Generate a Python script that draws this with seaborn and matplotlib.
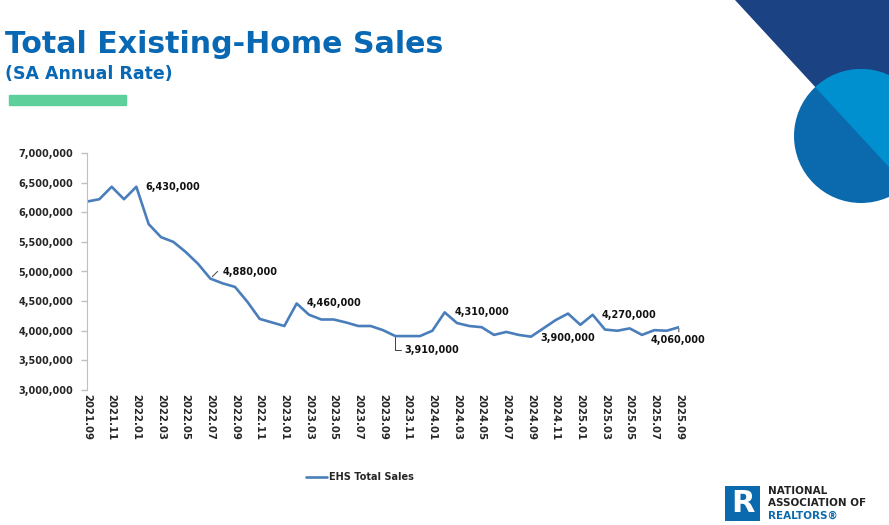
import matplotlib
matplotlib.use("Agg")
import matplotlib.pyplot as plt
import matplotlib.patches as mpatches
import seaborn as sns
import numpy as np
import pandas as pd

# monthly periods 2021.09 .. 2025.09
months = [f"{y}.{m:02d}" for y in range(2021, 2026) for m in range(1, 13)]
months = months[months.index("2021.09"):months.index("2025.09") + 1]

# EHS total sales, SA annual rate (millions)
sales_m = [6.18, 6.22, 6.43, 6.22,
           6.43, 5.80, 5.58, 5.50, 5.33, 5.13, 4.88, 4.80, 4.74, 4.49, 4.20, 4.14,
           4.08, 4.46, 4.27, 4.19, 4.19, 4.14, 4.08, 4.08, 4.01, 3.91, 3.91, 3.91,
           4.00, 4.31, 4.13, 4.08, 4.06, 3.93, 3.98, 3.93, 3.90, 4.04, 4.18, 4.29,
           4.10, 4.27, 4.02, 4.00, 4.04, 3.93, 4.01, 4.00, 4.06]

# labelled points: (period, label)
callouts = [("2022.01", "6,430,000"), ("2022.07", "4,880,000"),
            ("2023.02", "4,460,000"), ("2023.10", "3,910,000"),
            ("2024.02", "4,310,000"), ("2024.09", "3,900,000"),
            ("2025.02", "4,270,000"), ("2025.09", "4,060,000")]

df = pd.DataFrame({"idx": np.arange(len(months)), "period": months,
                   "sales": np.array(sales_m) * 1e6})

sns.set_style("white")
plt.rcParams["font.family"] = ["DejaVu Sans"]

W, H = 889, 525
fig = plt.figure(figsize=(W / 100, H / 100), dpi=100)

def fx(px):
    return px / W

def fy(py):
    return 1 - py / H

ax = fig.add_axes([fx(87), fy(390), fx(679) - fx(87), fy(153) - fy(390)])
line_color = "#4a7ebb"
sns.lineplot(data=df, x="idx", y="sales", ax=ax, color=line_color,
             linewidth=1.9, label="EHS Total Sales", legend=False)

ax.set_xlim(0, len(months) - 1)
ax.set_ylim(3e6, 7e6)
ax.set_yticks(np.arange(3e6, 7.01e6, 5e5))
ax.set_yticklabels([f"{int(v):,}" for v in ax.get_yticks()],
                   fontsize=7, fontweight="bold")
ax.set_xticks(df["idx"][::2])
ax.set_xticklabels(df["period"][::2], rotation=270, fontsize=7.3,
                   fontweight="bold")
ax.tick_params(axis="x", length=0, pad=3)
ax.tick_params(axis="y", length=4, color="#bfbfbf", width=1, pad=6, left=True)
ax.set_xlabel("")
ax.set_ylabel("")
for s in ["top", "right", "bottom"]:
    ax.spines[s].set_visible(False)
ax.spines["left"].set_color("#bfbfbf")
ax.patch.set_alpha(0)

# data labels
offsets = {"2022.01": (9, 0, None), "2022.07": (12, 7, "angle2"),
           "2023.02": (10, 0, None), "2023.10": (9, -14, "angle"),
           "2024.02": (10, 0, None), "2024.09": (9, -1, None),
           "2025.02": (9, 0, None), "2025.09": (-28, -13, "-")}
for period, text in callouts:
    i = months.index(period)
    dx, dy, arrow = offsets[period]
    props = None
    if arrow == "-":
        props = dict(arrowstyle="-", color="#404040", lw=0.7,
                     shrinkA=0, shrinkB=1)
    elif arrow == "angle":
        props = dict(arrowstyle="-", color="#404040", lw=0.7, shrinkA=0,
                     shrinkB=1,
                     connectionstyle="angle,angleA=0,angleB=90,rad=0")
    elif arrow == "angle2":
        props = dict(arrowstyle="-", color="#404040", lw=0.7, shrinkA=1,
                     shrinkB=2,
                     connectionstyle="angle,angleA=0,angleB=45,rad=0")
    ax.annotate(text, (i, sales_m[i] * 1e6), xytext=(dx, dy),
                textcoords="offset pixels", ha="left", va="center",
                fontsize=7, fontweight="bold", color="#111111",
                arrowprops=props, annotation_clip=False)

# legend
handle = plt.Line2D([], [], color=line_color, linewidth=1.9)
fig.legend([handle], ["EHS Total Sales"], loc="center",
           bbox_to_anchor=(fx(360), fy(477)), frameon=False,
           prop=dict(size=7, weight="bold"), handlelength=2.2,
           handletextpad=0.2)

# title block
title_blue = "#0868b3"
fig.text(fx(5), fy(53), "Total Existing-Home Sales", fontsize=21.6,
         fontweight="bold", color=title_blue, va="baseline", ha="left")
fig.text(fx(5), fy(79), "(SA Annual Rate)", fontsize=12.5,
         fontweight="bold", color=title_blue, va="baseline", ha="left")
fig.patches.append(mpatches.Rectangle((fx(9), fy(105)), fx(117), 10 / H,
                                      transform=fig.transFigure,
                                      color="#5ccf9b", zorder=1))

# decorative corner shapes
deco = fig.add_axes([0, 0, 1, 1], zorder=-1)
deco.set_xlim(0, W)
deco.set_ylim(H, 0)
deco.axis("off")
deco.add_patch(mpatches.Polygon([(735, 0), (W, 0), (W, 167)],
                                color="#1b4282", lw=0))
circ = mpatches.Circle((861, 136), 67, color="#0b6aad", lw=0)
deco.add_patch(circ)
upper = mpatches.Circle((861, 136), 67, color="#0090cf", lw=0)
deco.add_patch(upper)
clip = mpatches.Polygon([(735, 0), (W + 80, 0), (W + 80, 254)],
                        transform=deco.transData)
upper.set_clip_path(clip)

# logo
deco.add_patch(mpatches.Rectangle((725, 486), 35, 35, color="#0b6aad", lw=0))
deco.text(742.5, 504, "R", fontsize=22, fontweight="bold", color="white",
          ha="center", va="center")
deco.text(768, 491, "NATIONAL", fontsize=7.5, fontweight="bold",
          color="#222222", va="center")
deco.text(768, 503.5, "ASSOCIATION OF", fontsize=7.5, fontweight="bold",
          color="#222222", va="center")
deco.text(768, 516, "REALTORS®", fontsize=7.5, fontweight="bold",
          color="#0b6aad", va="center")

fig.savefig("out.png", dpi=100)
